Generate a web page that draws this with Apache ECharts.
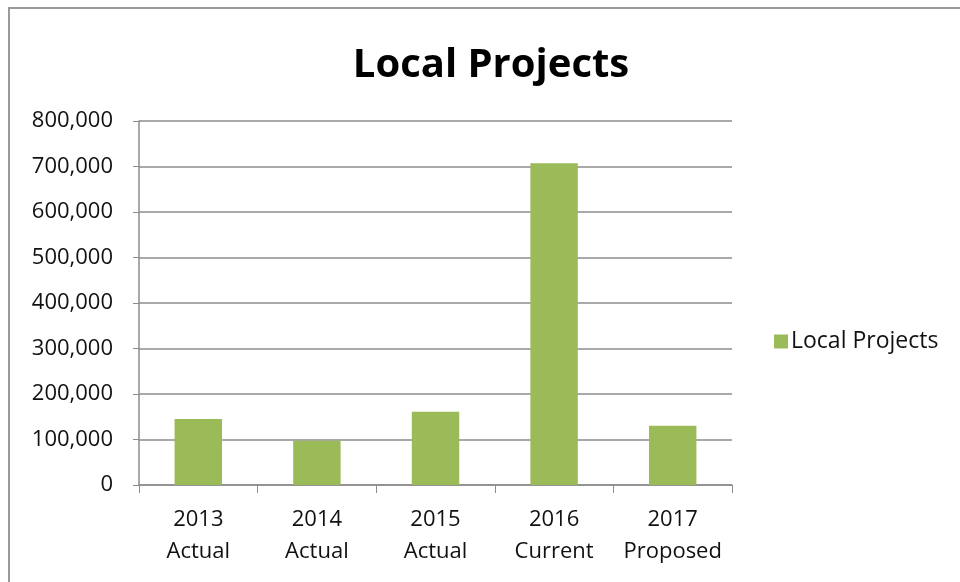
<!DOCTYPE html>
<html>
<head>
<meta charset="utf-8">
<script src="https://cdn.jsdelivr.net/npm/echarts@6/dist/echarts.min.js"></script>
<style>
  html, body { margin: 0; padding: 0; background: #fff; }
  #chart { width: 960px; height: 582px; }
</style>
</head>
<body>
<div id="chart"></div>
<script>
// 数据
var categories = ['2013\nActual', '2014\nActual', '2015\nActual', '2016\nCurrent', '2017\nProposed'];
var values = [145000, 97000, 161000, 707000, 130000];
var seriesName = 'Local Projects';
var yTicks = { min: 0, max: 800000, interval: 100000 };

var chart = echarts.init(document.getElementById('chart'));
var font = '"Open Sans", "Noto Sans", sans-serif';

var option = {
    backgroundColor: '#fff',
    animation: false,
    title: {
        text: 'Local Projects',
        left: 486,
        top: 41,
        textAlign: 'center',
        textStyle: {
            fontFamily: font,
            fontSize: 40,
            fontWeight: 'bold',
            color: '#000'
        }
    },
    legend: {
        data: [seriesName],
        orient: 'vertical',
        left: 769,
        top: 325,
        itemWidth: 14,
        itemHeight: 14,
        itemGap: 6,
        icon: 'rect',
        textStyle: {
            fontFamily: font,
            fontSize: 23,
            color: '#111',
            padding: [0, 0, 0, -2]
        }
    },
    grid: {
        left: 139,
        top: 121,
        width: 593,
        height: 364,
        containLabel: false
    },
    xAxis: {
        type: 'category',
        data: categories,
        axisLine: { lineStyle: { color: '#8c8c8c', width: 1.5 } },
        axisTick: { show: true, length: 8, lineStyle: { color: '#8c8c8c' } },
        axisLabel: {
            fontFamily: font,
            fontSize: 22,
            color: '#111',
            lineHeight: 32,
            margin: 19,
            interval: 0
        }
    },
    yAxis: {
        type: 'value',
        min: yTicks.min,
        max: yTicks.max,
        interval: yTicks.interval,
        axisLine: { show: true, lineStyle: { color: '#8c8c8c', width: 1.5 } },
        axisTick: { show: true, length: 6, lineStyle: { color: '#8c8c8c' } },
        splitLine: { lineStyle: { color: '#8c8c8c', width: 1.5 } },
        axisLabel: {
            fontFamily: font,
            fontSize: 22,
            color: '#111',
            margin: 26,
            formatter: function (v) { return v.toLocaleString('en-US'); }
        }
    },
    graphic: [{
        type: 'rect',
        shape: { x: 9, y: 8, width: 1000, height: 700 },
        style: { fill: 'none', stroke: '#999', lineWidth: 2 },
        silent: true
    }],
    series: [{
        name: seriesName,
        type: 'bar',
        data: values,
        barWidth: '40%',
        itemStyle: { color: '#9bbb59' }
    }]
};

chart.setOption(option);
</script>
</body>
</html>
